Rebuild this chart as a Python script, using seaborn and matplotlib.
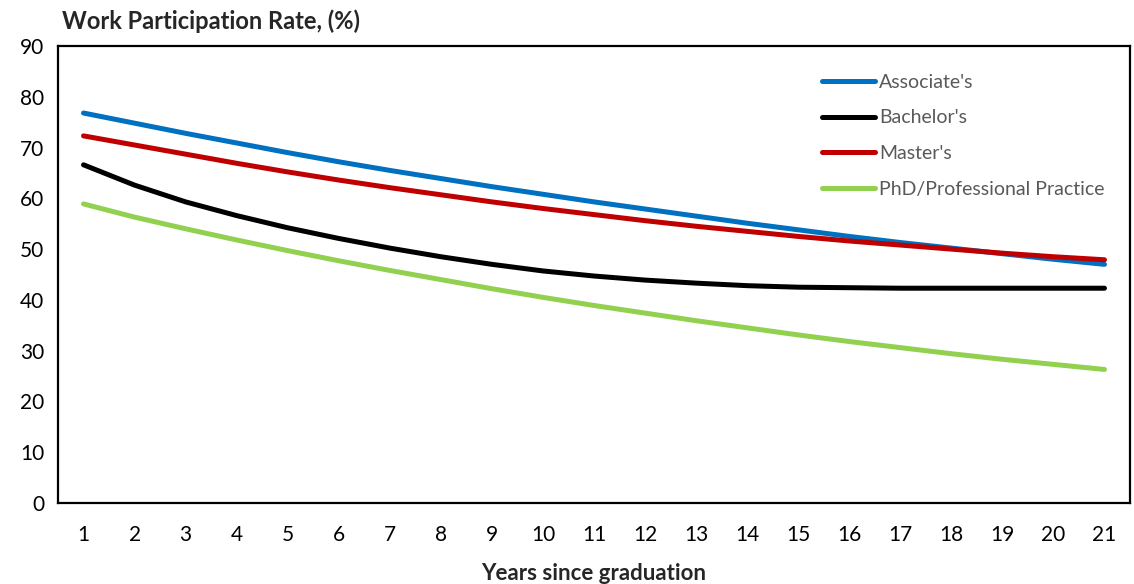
import matplotlib
matplotlib.use("Agg")
import matplotlib.pyplot as plt
import seaborn as sns
import pandas as pd

years = list(range(1, 22))
associates = [76.8, 74.8, 72.8, 70.9, 69.0, 67.2, 65.5, 63.9, 62.3, 60.8, 59.3,
              57.9, 56.5, 55.1, 53.8, 52.5, 51.3, 50.2, 49.1, 48.0, 47.0]
bachelors = [66.6, 62.6, 59.3, 56.6, 54.2, 52.1, 50.2, 48.5, 47.0, 45.7, 44.7,
             43.9, 43.3, 42.8, 42.5, 42.4, 42.3, 42.3, 42.3, 42.3, 42.3]
masters = [72.3, 70.5, 68.7, 66.9, 65.2, 63.6, 62.1, 60.7, 59.3, 58.0, 56.8,
           55.6, 54.5, 53.5, 52.5, 51.6, 50.8, 50.0, 49.2, 48.5, 47.9]
phd = [58.9, 56.3, 54.0, 51.8, 49.7, 47.7, 45.8, 44.0, 42.2, 40.5, 38.9,
       37.4, 35.9, 34.5, 33.1, 31.8, 30.6, 29.4, 28.3, 27.3, 26.3]

series_names = ["Associate's", "Bachelor's", "Master's", "PhD/Professional Practice"]
series_values = [associates, bachelors, masters, phd]
colors = ["#0070C0", "#000000", "#C00000", "#92D050"]
y_ticks = list(range(0, 91, 10))

df = pd.DataFrame(
    [(y, name, v) for name, vals in zip(series_names, series_values)
     for y, v in zip(years, vals)],
    columns=["year", "degree", "rate"],
)

sns.set_theme(style="white")
plt.rcParams["font.family"] = ["Lato", "DejaVu Sans"]

fig = plt.figure(figsize=(11.34, 5.84), dpi=100)
ax = fig.add_axes([58 / 1134, 1 - 503 / 584, (1130 - 58) / 1134, (503 - 46) / 584])

sns.lineplot(data=df, x="year", y="rate", hue="degree", hue_order=series_names,
             palette=colors, linewidth=3.6, ax=ax, legend=False,
             solid_capstyle="round")

ax.set_xlim(0.5, 21.5)
ax.set_ylim(0, 90)
ax.set_xticks(years)
ax.set_xticklabels([str(y) for y in years])
ax.set_yticks(y_ticks)
ax.tick_params(axis="both", length=0, labelsize=15, colors="black")
ax.tick_params(axis="x", pad=16)
ax.tick_params(axis="y", pad=10)

for sp in ax.spines.values():
    sp.set_visible(True)
    sp.set_color("black")
    sp.set_linewidth(1.6)

ax.set_xlabel("Years since graduation", fontsize=16, fontweight="bold", labelpad=13)
ax.set_ylabel("")

fig.text(62 / 1134, 1 - 21 / 584, "Work Participation Rate, (%)", fontsize=17,
         fontweight="bold", va="center", ha="left")

handles = [plt.Line2D([], [], color=c, linewidth=3.6, solid_capstyle="round")
           for c in colors]
leg = ax.legend(handles, series_names, loc="upper left",
                bbox_to_anchor=((814 - 58) / 1072, 1 - (66 - 46) / 457),
                frameon=False, fontsize=14, handlelength=2.75, handletextpad=0.2,
                labelspacing=0.96, borderaxespad=0)
for t in leg.get_texts():
    t.set_color("#595959")

fig.savefig("out.png", dpi=100)
